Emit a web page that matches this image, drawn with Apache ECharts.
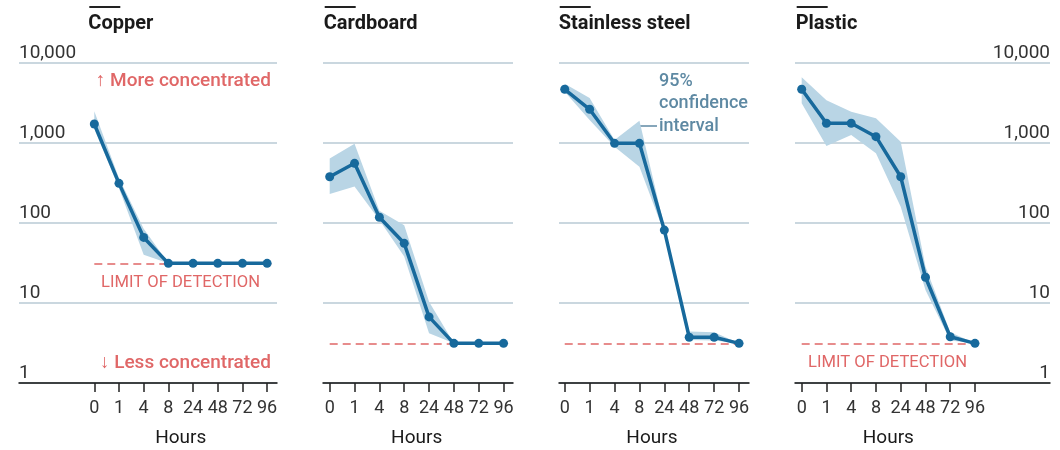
<!DOCTYPE html>
<html>
<head>
<meta charset="utf-8">
<script src="https://cdn.jsdelivr.net/npm/echarts@6.0.0/dist/echarts.min.js"></script>
<style>
  html, body { margin: 0; padding: 0; background: #fff; }
  #chart { width: 1060px; height: 450px; }
</style>
</head>
<body>
<div id="chart"></div>
<script>
// hours after application (category labels)
var hours = ['0', '1', '4', '8', '24', '48', '72', '96'];
var panelNames = ['Copper', 'Cardboard', 'Stainless steel', 'Plastic'];

// median virus concentration
var copperMid = [1730, 313, 66, 31.3, 31.3, 31.3, 31.3, 31.3];
var copperLo = [1500, 272, 40, 31.3, 31.3, 31.3, 31.3, 31.3];
var copperHi = [2500, 363, 85, 31.3, 31.3, 31.3, 31.3, 31.3];

var cardboardMid = [379, 557, 118, 55.7, 6.7, 3.13, 3.13, 3.13];
var cardboardLo = [231, 285, 109, 38, 4.2, 3.13, 3.13, 3.13];
var cardboardHi = [642, 977, 142, 94, 10.4, 3.13, 3.13, 3.13];

var steelMid = [4690, 2640, 991, 991, 81.6, 3.73, 3.73, 3.13];
var steelLo = [4380, 1940, 900, 505, 75, 3.45, 3.4, 3.13];
var steelHi = [5500, 3640, 1090, 1900, 90, 4.4, 4.3, 3.13];

var plasticMid = [4690, 1763, 1763, 1200, 379, 21, 3.79, 3.13];
var plasticLo = [3140, 916, 1260, 743, 160, 14.5, 3.4, 3.13];
var plasticHi = [6620, 3430, 2460, 2040, 1040, 28.5, 4.3, 3.13];

// limit of detection per panel
var detectionLimit = [31.3, 3.13, 3.13, 3.13];

var blue = '#17699c';
var band = '#b9d5e5';
var red = '#e06767';
var grey = '#333333';
var font = 'Roboto, "Noto Sans", sans-serif';

var mids = [copperMid, cardboardMid, steelMid, plasticMid];
var los = [copperLo, cardboardLo, steelLo, plasticLo];
var his = [copperHi, cardboardHi, steelHi, plasticHi];

// grid boxes and x ranges (in category index units)
var panels = [
    { left: 19, width: 258, min: -3.05, max: 7.4, label: 'left' },
    { left: 323, width: 190, min: -0.27, max: 7.38, label: null },
    { left: 559, width: 190, min: -0.23, max: 7.4, label: null },
    { left: 795, width: 255, min: -0.27, max: 10.03, label: 'right' }
];

function commas(v) {
    return String(Math.round(v)).replace(/\B(?=(\d{3})+(?!\d))/g, ',');
}

var idx = hours.map(function (h, i) { return i; });

var grids = [], xAxes = [], yAxes = [], series = [], graphics = [];

panels.forEach(function (p, k) {
    grids.push({ left: p.left, width: p.width, top: 63, height: 320 });
    xAxes.push({
        type: 'value',
        gridIndex: k,
        min: p.min,
        max: p.max,
        axisLine: { show: true, onZero: false, lineStyle: { color: '#111', width: 1.5 } },
        axisTick: { show: true, customValues: idx, length: 9, lineStyle: { color: '#222', width: 1.5 } },
        axisLabel: {
            customValues: idx,
            margin: 16,
            color: grey,
            fontFamily: font,
            fontSize: 18,
            formatter: function (v) { return hours[Math.round(v)]; }
        },
        splitLine: { show: false }
    });
    yAxes.push({
        type: 'log',
        logBase: 10,
        gridIndex: k,
        min: 1,
        max: 10000,
        position: p.label === 'right' ? 'right' : 'left',
        axisLine: { show: false },
        axisTick: { show: false },
        axisLabel: {
            show: p.label !== null,
            inside: true,
            margin: 0,
            verticalAlign: 'bottom',
            padding: 0,
            color: grey,
            fontFamily: font,
            fontSize: 19,
            formatter: commas
        },
        splitLine: { show: true, lineStyle: { color: '#b9cad4', width: 1.5 } }
    });

    var lo = los[k], hi = his[k];
    series.push({
        type: 'custom',
        xAxisIndex: k,
        yAxisIndex: k,
        silent: true,
        z: 1,
        data: idx.map(function (i) { return [i, mids[k][i]]; }),
        renderItem: function (params, api) {
            if (params.dataIndex !== 0) return null;
            var pts = [];
            idx.forEach(function (i) { pts.push(api.coord([i, hi[i]])); });
            idx.slice().reverse().forEach(function (i) { pts.push(api.coord([i, lo[i]])); });
            return { type: 'polygon', shape: { points: pts }, style: { fill: band } };
        }
    });
    series.push({
        type: 'line',
        xAxisIndex: k,
        yAxisIndex: k,
        z: 3,
        data: idx.map(function (i) { return [i, mids[k][i]]; }),
        symbol: 'circle',
        symbolSize: 9,
        itemStyle: { color: blue },
        lineStyle: { color: blue, width: 3.5 },
        silent: true,
        markLine: {
            silent: true,
            symbol: 'none',
            z: 2,
            label: { show: false },
            lineStyle: { color: red, type: [8, 5], width: 1.5 },
            data: [[{ coord: [0, detectionLimit[k]] }, { coord: [7.25, detectionLimit[k]] }]]
        }
    });

    // panel title with its short rule above
    var x0 = p.left + (0 - p.min) / (p.max - p.min) * p.width;
    var x7 = p.left + (7 - p.min) / (p.max - p.min) * p.width;
    graphics.push({ type: 'rect', shape: { x: x0 - 5, y: 6, width: 31, height: 2 }, style: { fill: '#222' } });
    graphics.push({
        type: 'text',
        style: { x: x0 - 6, y: 24, text: panelNames[k], fill: '#1a1a1a', font: 'bold 20px ' + font, textVerticalAlign: 'middle' }
    });
    graphics.push({
        type: 'text',
        style: { x: (x0 + x7) / 2, y: 438, text: 'Hours', fill: '#1a1a1a', font: '19px ' + font, textAlign: 'center', textVerticalAlign: 'middle' }
    });
});

// annotations
graphics.push({ type: 'text', style: { x: 271, y: 81, text: '\u2191 More concentrated', fill: red, font: '500 19px ' + font, textAlign: 'right', textVerticalAlign: 'middle' } });
graphics.push({ type: 'text', style: { x: 101, y: 283, text: 'LIMIT OF DETECTION', fill: red, font: '16.6px ' + font, textVerticalAlign: 'middle' } });
graphics.push({ type: 'text', style: { x: 271, y: 363, text: '\u2193 Less concentrated', fill: red, font: '500 19px ' + font, textAlign: 'right', textVerticalAlign: 'middle' } });
graphics.push({ type: 'text', style: { x: 808, y: 363, text: 'LIMIT OF DETECTION', fill: red, font: '16.6px ' + font, textVerticalAlign: 'middle' } });
graphics.push({ type: 'text', style: { x: 659, y: 70.5, text: '95%\nconfidence\ninterval', fill: '#5e89a3', font: '500 18px ' + font, lineHeight: 22.3, textVerticalAlign: 'top' } });
graphics.push({ type: 'line', shape: { x1: 640, y1: 126, x2: 657, y2: 126 }, style: { stroke: '#5e89a3', lineWidth: 1.5 } });
graphics.push({ type: 'circle', shape: { cx: 638, cy: 126, r: 2 }, style: { fill: '#6f94ab' } });

var chart = echarts.init(document.getElementById('chart'), null, { renderer: 'canvas' });
chart.setOption({
    animation: false,
    backgroundColor: '#fff',
    grid: grids,
    xAxis: xAxes,
    yAxis: yAxes,
    series: series,
    graphic: graphics
});
</script>
</body>
</html>
